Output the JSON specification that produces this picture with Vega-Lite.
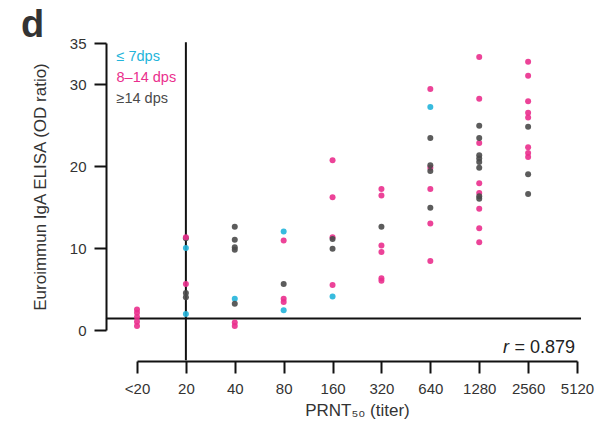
{
  "$schema": "https://vega.github.io/schema/vega-lite/v6.json",
  "autosize": {"type": "none"},
  "width": 440,
  "height": 287,
  "padding": {"left": 137, "top": 43, "right": 36, "bottom": 103},
  "background": "white",
  "title": {"text": "d", "anchor": "start", "frame": "group", "dx": -116, "dy": 15, "offset": 6, "fontSize": 38, "fontWeight": "bold", "font": "Liberation Sans", "color": "#333333"},
  "config": {
    "view": {"stroke": null},
    "font": "Liberation Sans",
    "axis": {"grid": false, "domainColor": "#111111", "tickColor": "#111111", "domainWidth": 2, "tickWidth": 2, "labelColor": "#333333", "titleColor": "#333333", "labelFont": "Liberation Sans", "titleFont": "Liberation Sans", "titleFontWeight": "normal"}
  },
  "layer": [
    {
      "data": {"values": [
        {"x": 6.44, "x2": 5420, "y": 1.4, "y2": 1.4},
        {"x": 20, "x2": 20, "y": -3.7, "y2": 35.1}
      ]},
      "mark": {"type": "rule", "color": "#111111", "strokeWidth": 2},
      "encoding": {
        "x": {"field": "x", "type": "quantitative", "scale": {"type": "log", "base": 2, "domain": [10, 5120], "nice": false}},
        "x2": {"field": "x2"},
        "y": {"field": "y", "type": "quantitative", "scale": {"domain": [0, 35], "nice": false}},
        "y2": {"field": "y2"}
      }
    },
    {
      "data": {"values": [
        {"titer": 10, "od": 2.5, "group": "8–14 dps"},
        {"titer": 10, "od": 2.1, "group": "8–14 dps"},
        {"titer": 10, "od": 1.6, "group": "8–14 dps"},
        {"titer": 10, "od": 1.0, "group": "8–14 dps"},
        {"titer": 10, "od": 0.5, "group": "8–14 dps"},
        {"titer": 20, "od": 11.2, "group": "≥14 dps"},
        {"titer": 20, "od": 11.3, "group": "8–14 dps"},
        {"titer": 20, "od": 10.0, "group": "≤ 7dps"},
        {"titer": 20, "od": 5.6, "group": "8–14 dps"},
        {"titer": 20, "od": 4.5, "group": "≥14 dps"},
        {"titer": 20, "od": 4.0, "group": "≥14 dps"},
        {"titer": 20, "od": 1.95, "group": "≤ 7dps"},
        {"titer": 40, "od": 12.6, "group": "≥14 dps"},
        {"titer": 40, "od": 11.0, "group": "≥14 dps"},
        {"titer": 40, "od": 10.1, "group": "≥14 dps"},
        {"titer": 40, "od": 9.8, "group": "≥14 dps"},
        {"titer": 40, "od": 3.8, "group": "≤ 7dps"},
        {"titer": 40, "od": 3.2, "group": "≥14 dps"},
        {"titer": 40, "od": 0.9, "group": "8–14 dps"},
        {"titer": 40, "od": 0.5, "group": "8–14 dps"},
        {"titer": 80, "od": 12.0, "group": "≤ 7dps"},
        {"titer": 80, "od": 10.9, "group": "8–14 dps"},
        {"titer": 80, "od": 5.6, "group": "≥14 dps"},
        {"titer": 80, "od": 3.8, "group": "8–14 dps"},
        {"titer": 80, "od": 3.4, "group": "8–14 dps"},
        {"titer": 80, "od": 2.4, "group": "≤ 7dps"},
        {"titer": 160, "od": 20.7, "group": "8–14 dps"},
        {"titer": 160, "od": 16.2, "group": "8–14 dps"},
        {"titer": 160, "od": 11.3, "group": "8–14 dps"},
        {"titer": 160, "od": 11.1, "group": "≥14 dps"},
        {"titer": 160, "od": 9.9, "group": "≥14 dps"},
        {"titer": 160, "od": 5.5, "group": "8–14 dps"},
        {"titer": 160, "od": 4.1, "group": "≤ 7dps"},
        {"titer": 320, "od": 17.2, "group": "8–14 dps"},
        {"titer": 320, "od": 16.4, "group": "8–14 dps"},
        {"titer": 320, "od": 12.6, "group": "≥14 dps"},
        {"titer": 320, "od": 10.3, "group": "8–14 dps"},
        {"titer": 320, "od": 9.5, "group": "8–14 dps"},
        {"titer": 320, "od": 6.3, "group": "8–14 dps"},
        {"titer": 320, "od": 6.0, "group": "8–14 dps"},
        {"titer": 640, "od": 29.4, "group": "8–14 dps"},
        {"titer": 640, "od": 27.2, "group": "≤ 7dps"},
        {"titer": 640, "od": 23.4, "group": "≥14 dps"},
        {"titer": 640, "od": 19.8, "group": "8–14 dps"},
        {"titer": 640, "od": 20.1, "group": "≥14 dps"},
        {"titer": 640, "od": 19.4, "group": "≥14 dps"},
        {"titer": 640, "od": 17.2, "group": "8–14 dps"},
        {"titer": 640, "od": 14.9, "group": "≥14 dps"},
        {"titer": 640, "od": 13.0, "group": "8–14 dps"},
        {"titer": 640, "od": 8.4, "group": "8–14 dps"},
        {"titer": 1280, "od": 33.3, "group": "8–14 dps"},
        {"titer": 1280, "od": 28.2, "group": "8–14 dps"},
        {"titer": 1280, "od": 24.9, "group": "≥14 dps"},
        {"titer": 1280, "od": 22.8, "group": "8–14 dps"},
        {"titer": 1280, "od": 23.4, "group": "≥14 dps"},
        {"titer": 1280, "od": 21.3, "group": "≥14 dps"},
        {"titer": 1280, "od": 20.9, "group": "≥14 dps"},
        {"titer": 1280, "od": 20.5, "group": "≥14 dps"},
        {"titer": 1280, "od": 19.8, "group": "≥14 dps"},
        {"titer": 1280, "od": 17.9, "group": "8–14 dps"},
        {"titer": 1280, "od": 16.7, "group": "8–14 dps"},
        {"titer": 1280, "od": 16.3, "group": "≥14 dps"},
        {"titer": 1280, "od": 16.0, "group": "≥14 dps"},
        {"titer": 1280, "od": 14.8, "group": "8–14 dps"},
        {"titer": 1280, "od": 12.4, "group": "8–14 dps"},
        {"titer": 1280, "od": 10.7, "group": "8–14 dps"},
        {"titer": 2560, "od": 32.7, "group": "8–14 dps"},
        {"titer": 2560, "od": 31.0, "group": "8–14 dps"},
        {"titer": 2560, "od": 27.9, "group": "8–14 dps"},
        {"titer": 2560, "od": 26.5, "group": "8–14 dps"},
        {"titer": 2560, "od": 25.9, "group": "8–14 dps"},
        {"titer": 2560, "od": 24.8, "group": "≥14 dps"},
        {"titer": 2560, "od": 22.3, "group": "8–14 dps"},
        {"titer": 2560, "od": 21.6, "group": "8–14 dps"},
        {"titer": 2560, "od": 21.1, "group": "8–14 dps"},
        {"titer": 2560, "od": 19.0, "group": "≥14 dps"},
        {"titer": 2560, "od": 16.6, "group": "≥14 dps"}
      ]},
      "mark": {"type": "circle", "size": 36, "opacity": 0.9},
      "encoding": {
        "x": {"field": "titer", "type": "quantitative", "scale": {"type": "log", "base": 2, "domain": [10, 5120], "nice": false},
          "axis": {"values": [10, 20, 40, 80, 160, 320, 640, 1280, 2560, 5120], "labelExpr": "datum.value < 15 ? '<20' : format(datum.value, 'd')", "offset": 31, "tickSize": 12, "labelPadding": 8, "labelFontSize": 15, "labelFlush": false, "labelOverlap": false, "title": "PRNT₅₀ (titer)", "titleFontSize": 17, "titlePadding": 6}},
        "y": {"field": "od", "type": "quantitative", "scale": {"domain": [0, 35], "nice": false},
          "axis": {"values": [0, 10, 20, 30, 35], "offset": 31, "tickSize": 12, "labelPadding": 8, "labelFontSize": 15, "title": "Euroimmun IgA ELISA (OD ratio)", "titleFontSize": 17, "titlePadding": 20}},
        "color": {"field": "group", "type": "nominal",
          "scale": {"domain": ["≤ 7dps", "8–14 dps", "≥14 dps"], "range": ["#22b4da", "#ea2f8d", "#4a4a4a"]},
          "legend": {"orient": "none", "legendX": -35, "legendY": 7, "title": null, "symbolSize": 0, "symbolStrokeWidth": 0, "labelOffset": 0, "labelFontSize": 14.5, "labelFont": "Liberation Sans", "rowPadding": 6, "padding": 0,
            "labelColor": {"expr": "scale('color', datum.value)"}}}
      }
    },
    {
      "data": {"values": [{"titer": 5120, "od": -2.8, "label": "= 0.879"}]},
      "mark": {"type": "text", "align": "right", "baseline": "alphabetic", "fontSize": 18, "dx": -2, "color": "#222222", "font": "Liberation Sans"},
      "encoding": {
        "x": {"field": "titer", "type": "quantitative"},
        "y": {"field": "od", "type": "quantitative"},
        "text": {"field": "label"}
      }
    },
    {
      "data": {"values": [{"titer": 5120, "od": -2.8, "label": "r"}]},
      "mark": {"type": "text", "align": "right", "baseline": "alphabetic", "fontSize": 18, "fontStyle": "italic", "dx": -68, "color": "#222222", "font": "Liberation Sans"},
      "encoding": {
        "x": {"field": "titer", "type": "quantitative"},
        "y": {"field": "od", "type": "quantitative"},
        "text": {"field": "label"}
      }
    }
  ]
}
